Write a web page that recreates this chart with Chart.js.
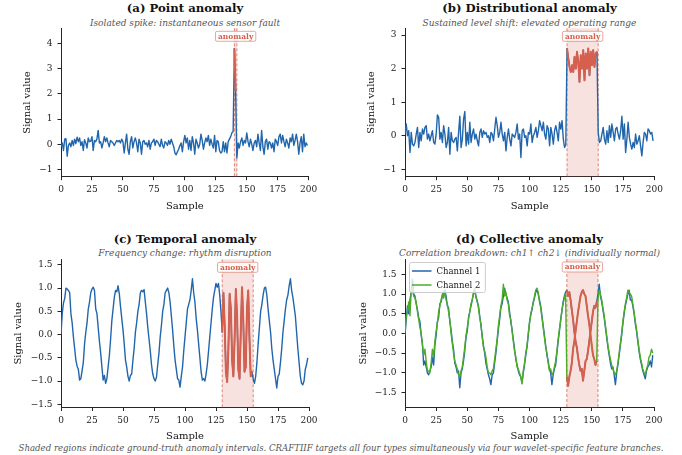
<!DOCTYPE html>
<html>
<head>
<meta charset="utf-8">
<script src="https://cdn.jsdelivr.net/npm/chart.js@4.4.1/dist/chart.umd.min.js"></script>
<style>
  body { margin: 0; width: 682px; height: 455px; background: #fff; position: relative; overflow: hidden; font-family: 'DejaVu Serif', serif; }
  canvas { position: absolute; }
  .t { position: absolute; transform: translate(-50%, -50%); white-space: nowrap; line-height: 1; }
  .title { font-weight: bold; font-size: 11.7px; color: #111; }
  .sub { font-style: italic; font-size: 9px; color: #555; }
  .note { font-style: italic; font-size: 8.6px; color: #555; }
</style>
</head>
<body>
<div class="t title" style="left:185px;top:9px">(a) Point anomaly</div>
<div class="t sub" style="left:185px;top:22.5px">Isolated spike: instantaneous sensor fault</div>
<div class="t title" style="left:529.5px;top:9px">(b) Distributional anomaly</div>
<div class="t sub" style="left:529.5px;top:22.5px">Sustained level shift: elevated operating range</div>
<div class="t title" style="left:185px;top:240px">(c) Temporal anomaly</div>
<div class="t sub" style="left:185px;top:252.5px">Frequency change: rhythm disruption</div>
<div class="t title" style="left:529.5px;top:240px">(d) Collective anomaly</div>
<div class="t sub" style="left:529.5px;top:252.5px">Correlation breakdown: ch1↑ ch2↓ (individually normal)</div>
<div class="t note" style="left:341px;top:447.5px">Shaded regions indicate ground-truth anomaly intervals. CRAFTIIF targets all four types simultaneously via four wavelet-specific feature branches.</div>

<canvas id="chartA" width="341" height="216" style="left:0px;top:0px"></canvas>
<canvas id="chartB" width="341" height="216" style="left:341px;top:0px"></canvas>
<canvas id="chartC" width="341" height="216" style="left:0px;top:228px"></canvas>
<canvas id="chartD" width="341" height="216" style="left:341px;top:228px"></canvas>

<script>
// tick labels
const xTicks = [0, 25, 50, 75, 100, 125, 150, 175, 200];
const yTicksA = [-1, 0, 1, 2, 3, 4];
const yTicksB = [-1, 0, 1, 2, 3];
const yTicksC = [-1.5, -1.0, -0.5, 0.0, 0.5, 1.0, 1.5];
const yTicksD = [-1.5, -1.0, -0.5, 0.0, 0.5, 1.0, 1.5];

// ground-truth anomaly intervals [start, end)
const windowA = [140, 142];
const windowB = [130, 155];
const windowC = [130, 155];
const windowD = [130, 155];

// (a) point anomaly, samples 0..199
const signalA = [
  -0.10, 0.05, -0.25, 0.20, 0.22, -0.48, -0.05, 0.05, -0.10, 0.15,
  -0.05, 0.20, 0.02, 0.28, 0.10, 0.25, -0.05, 0.10, -0.25, 0.18,
  0.05, -0.15, 0.25, 0.10, 0.12, 0.30, -0.25, 0.15, 0.10, 0.20,
  0.55, 0.05, 0.10, -0.15, 0.05, 0.30, 0.10, 0.25, 0.05, -0.10,
  0.15, 0.10, 0.05, -0.05, 0.05, 0.15, 0.10, 0.15, 0.05, 0.20,
  0.10, -0.35, 0.05, 0.40, -0.20, -0.40, 0.10, 0.30, -0.15, 0.10,
  0.25, 0.05, -0.30, 0.20, 0.05, -0.40, 0.10, 0.15, 0.00, 0.05,
  -0.10, 0.15, -0.20, 0.05, 0.10, 0.20, -0.05, 0.15, 0.10, 0.00,
  -0.10, 0.20, -0.05, -0.15, 0.10, 0.05, -0.05, 0.15, 0.00, 0.20,
  0.05, -0.10, -0.35, -0.42, -0.30, -0.20, -0.05, 0.05, -0.30, 0.10,
  0.35, 0.05, 0.25, -0.20, 0.15, -0.25, 0.30, 0.05, -0.40, 0.20,
  0.05, -0.15, 0.00, 0.40, 0.15, -0.20, 0.05, 0.25, 0.10, 0.35,
  -0.05, 0.20, 0.00, -0.15, 0.35, -0.30, 0.15, 0.10, -0.25, -0.35,
  -0.30, 0.10, -0.30, 0.05, -0.35, 0.10, 0.20, 0.30, 0.45, 0.50,
  3.80, 2.10, -0.55, 0.05, -0.15, 0.10, 0.25, -0.05, 0.15, 0.05,
  0.45, 0.10, -0.10, 0.20, 0.00, -0.25, 0.05, 0.15, -0.10, 0.40,
  0.05, -0.25, 0.55, -0.10, -0.40, 0.10, 0.20, -0.20, 0.10, 0.05,
  -0.15, 0.05, -0.30, 0.20, 0.10, -0.05, 0.30, 0.40, 0.05, 0.35,
  0.10, -0.10, 0.20, 0.05, -0.15, 0.25, 0.10, 0.40, -0.05, 0.15,
  0.40, 0.10, -0.40, 0.05, 0.30, -0.30, 0.40, -0.10, 0.05, -0.05
];

// (b) distributional anomaly
const signalB = [
  0.05, 0.35, 0.00, 0.15, -0.50, 0.10, -0.25, -0.30, -0.20, 0.05,
  0.25, -0.35, 0.10, -0.15, 0.20, 0.05, 0.25, 0.30, -0.10, 0.05,
  -0.15, 0.00, 0.15, -0.20, -0.25, 0.05, 0.62, 0.55, -0.10, 0.10,
  -0.20, 0.30, 0.05, -0.35, -0.20, 0.25, -0.55, 0.10, -0.15, -0.20,
  -0.10, -0.05, -0.45, 0.10, 0.58, -0.35, -0.10, 0.50, 0.72, -0.30,
  0.10, -0.25, 0.40, -0.20, 0.05, 0.20, -0.10, 0.05, -0.15, -0.30,
  0.10, 0.20, -0.05, 0.15, 0.05, 0.10, -0.05, 0.00, -0.20, 0.10,
  0.05, -0.15, 0.20, 0.55, 0.30, -0.05, 0.10, 0.40, 0.05, -0.15,
  0.10, -0.45, -0.05, 0.20, -0.10, -0.30, 0.05, 0.00, -0.05, 0.10,
  0.35, -0.10, 0.05, -0.65, 0.15, 0.20, -0.05, 0.00, -0.30, 0.10,
  0.05, 0.35, -0.20, 0.00, 0.10, 0.25, -0.05, 0.15, 0.45, 0.30,
  0.15, 0.40, 0.05, -0.10, 0.30, 0.20, -0.30, 0.25, 0.05, -0.25,
  0.15, 0.30, 0.10, -0.15, 0.40, 0.20, 0.45, -0.10, -0.35, -0.25,
  2.60, 2.30, 2.05, 1.90, 2.10, 1.90, 2.35, 2.00, 2.50, 2.20,
  1.60, 2.40, 2.00, 2.55, 1.65, 2.45, 2.00, 2.60, 1.80, 2.50,
  2.10, 2.55, 2.05, 2.45, 2.50, 0.10, -0.20, -0.15, 0.05, 0.25,
  -0.10, -0.25, 0.15, -0.20, 0.30, -0.05, 0.35, 0.10, -0.15, 0.20,
  0.25, 0.05, -0.10, 0.15, 0.58, -0.10, 0.35, -0.50, -0.10, 0.40,
  -0.05, -0.25, -0.40, -0.20, -0.35, 0.05, -0.25, -0.15, 0.00, -0.30,
  -0.60, -0.20, 0.10, 0.05, -0.15, 0.20, 0.15, 0.05, 0.10, -0.15
];

// (c) temporal anomaly
const signalC = [
  0.00, 0.45, 0.68, 0.78, 1.00, 0.98, 0.95, 0.90, 0.45, 0.25,
  -0.05, -0.30, -0.55, -0.68, -0.75, -0.98, -0.95, -0.78, -0.60, -0.20,
  0.05, 0.25, 0.55, 0.70, 0.90, 0.98, 1.02, 0.95, 0.55, 0.45,
  0.15, -0.15, -0.40, -0.70, -0.98, -0.88, -1.05, -0.95, -0.70, -0.45,
  -0.10, 0.30, 0.55, 0.80, 0.95, 0.92, 1.05, 0.88, 0.60, 0.35,
  0.10, -0.20, -0.55, -0.70, -0.90, -1.00, -0.88, -0.85, -0.55, -0.30,
  0.05, 0.25, 0.50, 0.65, 0.90, 0.95, 0.92, 0.97, 0.70, 0.45,
  0.15, -0.10, -0.35, -0.65, -0.85, -0.95, -1.00, -0.92, -0.65, -0.40,
  -0.05, 0.20, 0.50, 0.65, 0.90, 0.95, 1.00, 0.90, 0.70, 0.40,
  0.10, -0.25, -0.55, -0.75, -0.95, -0.98, -1.13, -0.90, -0.70, -0.35,
  -0.05, 0.25, 0.55, 0.65, 0.75, 0.95, 1.20, 0.90, 0.70, 0.35,
  0.10, -0.20, -0.50, -0.80, -0.98, -0.95, -1.00, -0.85, -0.65, -0.35,
  -0.05, 0.25, 0.55, 0.80, 0.95, 1.10, 1.02, 1.10, 0.85, 0.50,
  0.05, 0.90, 0.20, -0.80, -1.02, -0.30, 0.88, 0.55, -0.55, -0.90,
  -0.10, 0.98, 0.40, -0.75, -0.95, 0.10, 1.02, 0.30, -0.80, -0.70,
  0.55, 0.95, -0.10, -0.90, -0.80, -0.95, -1.05, -0.90, -0.60, -0.20,
  0.15, 0.50, 0.65, 0.85, 1.00, 1.02, 0.85, 0.55, 0.30, 0.05,
  -0.30, -0.55, -0.75, -0.95, -1.15, -0.90, -0.85, -0.60, -0.30, 0.05,
  0.30, 0.55, 0.75, 0.85, 1.05, 1.20, 0.95, 0.80, 0.60, 0.40,
  0.05, -0.30, -0.60, -0.90, -1.05, -1.08, -1.00, -0.75, -0.65, -0.50
];

// (d) collective anomaly, channel 1
const channel1 = [
  -0.05, 0.35, 0.70, 0.50, 0.85, 1.05, 1.38, 1.00, 0.95, 0.75,
  0.60, 0.40, 0.30, -0.05, -0.25, -0.80, -0.70, -0.85, -1.00, -1.05,
  -0.95, -0.85, -0.60, -0.80, -0.30, -0.05, 0.30, 0.40, 0.75, 0.80,
  0.95, 1.05, 1.10, 0.95, 0.70, 0.65, 0.30, 0.10, -0.20, -0.40,
  -0.75, -0.85, -1.00, -0.95, -1.38, -1.00, -0.90, -0.70, -0.45, -0.10,
  0.05, 0.40, 0.55, 0.70, 0.85, 1.00, 1.10, 0.95, 0.80, 0.70,
  0.45, 0.20, -0.05, -0.30, -0.50, -0.75, -0.90, -1.05, -1.15, -1.30,
  -1.05, -1.00, -0.75, -0.50, -0.20, 0.10, 0.35, 0.65, 0.75, 0.95,
  1.15, 1.00, 0.90, 0.80, 0.55, 0.30, 0.10, -0.15, -0.40, -0.65,
  -0.80, -0.95, -1.05, -1.10, -1.25, -1.00, -0.80, -0.55, -0.35, -0.05,
  0.25, 0.50, 0.60, 0.80, 0.90, 1.05, 1.10, 1.00, 0.85, 0.70,
  0.45, 0.20, -0.05, -0.30, -0.55, -0.70, -0.90, -1.00, -1.30, -1.05,
  -0.90, -0.80, -0.50, -0.20, 0.05, 0.35, 0.55, 0.80, 0.95, 1.05,
  1.10, 0.95, 1.05, 0.85, 0.60, 0.35, 0.05, -0.20, -0.35, -0.60,
  -0.80, -0.95, -0.90, -1.20, -0.95, -0.70, -0.65, -0.45, -0.20, 0.05,
  0.30, 0.55, 0.70, 0.65, 0.80, 1.00, 1.25, 0.95, 0.80, 0.60,
  0.40, 0.15, -0.10, -0.35, -0.55, -0.75, -0.90, -0.85, -1.05, -1.30,
  -1.00, -0.80, -0.55, -0.30, -0.05, 0.25, 0.50, 0.70, 0.85, 1.00,
  1.10, 0.85, 0.85, 0.70, 0.50, 0.25, 0.05, -0.20, -0.45, -0.65,
  -0.80, -0.95, -1.05, -1.15, -0.95, -0.85, -0.80, -0.70, -0.85, -0.55
];

// (d) channel 2
const channel2 = [
  0.05, 0.45, 0.55, 0.80, 0.45, 1.10, 1.15, 0.95, 0.90, 0.80,
  0.55, 0.35, 0.15, 0.00, -0.30, -0.55, -0.40, -0.70, -0.95, -0.95,
  -1.00, -0.75, -0.40, -0.60, -0.20, 0.05, 0.25, 0.55, 0.70, 0.85,
  1.00, 0.90, 1.05, 0.85, 0.75, 0.55, 0.35, 0.00, -0.25, -0.50,
  -0.70, -0.80, -0.90, -1.05, -1.10, -0.95, -0.85, -0.60, -0.35, -0.05,
  0.15, 0.35, 0.55, 0.75, 0.85, 1.05, 1.15, 0.90, 0.85, 0.65,
  0.40, 0.25, -0.10, -0.35, -0.45, -0.60, -0.85, -1.00, -1.00, -1.05,
  -0.95, -0.90, -0.65, -0.40, -0.15, 0.20, 0.45, 0.70, 0.85, 1.25,
  0.95, 1.05, 0.85, 0.75, 0.45, 0.35, 0.05, -0.20, -0.45, -0.60,
  -0.85, -0.90, -1.00, -1.10, -1.28, -0.95, -0.75, -0.50, -0.30, 0.00,
  0.30, 0.45, 0.65, 0.75, 0.95, 1.10, 1.15, 1.05, 0.80, 0.65,
  0.40, 0.15, -0.10, -0.35, -0.50, -0.75, -0.95, -0.90, -1.05, -1.00,
  -0.85, -0.70, -0.45, -0.15, 0.10, 0.30, 0.60, 0.75, 0.90, 1.00,
  -1.10, -1.33, -1.10, -0.95, -0.75, -0.40, -0.20, 0.05, 0.30, 0.55,
  0.75, 0.95, 1.05, 1.10, 1.00, 0.95, 0.70, 0.45, 0.25, -0.05,
  -0.30, -0.55, -0.65, -0.80, -0.70, 0.85, 1.10, 1.00, 0.85, 0.65,
  0.45, 0.20, -0.05, -0.30, -0.50, -0.65, -0.80, -0.90, -1.00, -1.05,
  -0.95, -0.75, -0.50, -0.25, 0.00, 0.30, 0.55, 0.75, 0.90, 1.10,
  1.05, 1.00, 0.95, 0.75, 0.55, 0.30, 0.10, -0.15, -0.40, -0.60,
  -0.75, -0.90, -1.00, -1.05, -0.90, -0.80, -0.60, -0.55, -0.40, -0.50
];

const blue = '#2166ac';
const red = '#d6604d';
const green = '#4dac26';
const ink = '#262626';
const serif = 'DejaVu Serif';

// turn a value list into {x, y} points, sample index on x
function points(arr, from, to) {
  return arr.slice(from, to).map((v, i) => ({ x: from + i, y: v }));
}

function minus(s) {
  return String(s).replace('-', '\u2212');
}

// shaded window, dashed edges, "anomaly" tag and the (d) legend
const decor = {
  id: 'decor',
  beforeDatasetsDraw(chart, args, opts) {
    const { ctx, chartArea: a, scales: { x } } = chart;
    const x1 = x.getPixelForValue(opts.start);
    const x2 = x.getPixelForValue(opts.end);
    ctx.save();
    ctx.fillStyle = 'rgba(214,96,77,0.18)';
    ctx.fillRect(x1, a.top, x2 - x1, a.bottom - a.top);
    ctx.strokeStyle = 'rgba(214,96,77,0.75)';
    ctx.lineWidth = 1;
    ctx.setLineDash([3, 2]);
    [x1, x2].forEach(px => {
      ctx.beginPath();
      ctx.moveTo(px, a.top);
      ctx.lineTo(px, a.bottom);
      ctx.stroke();
    });
    ctx.restore();
  },
  afterDatasetsDraw(chart, args, opts) {
    const { ctx, chartArea: a, scales: { x } } = chart;
    const cx = (x.getPixelForValue(opts.start) + x.getPixelForValue(opts.end)) / 2;
    ctx.save();
    ctx.font = 'bold 7.5px "' + serif + '"';
    const w = ctx.measureText('anomaly').width + 5;
    const h = 10;
    const top = a.top + 3;
    ctx.beginPath();
    ctx.roundRect(cx - w / 2, top, w, h, 1.5);
    ctx.fillStyle = 'rgba(255,255,255,0.85)';
    ctx.fill();
    ctx.strokeStyle = 'rgba(214,96,77,0.55)';
    ctx.lineWidth = 1;
    ctx.stroke();
    ctx.fillStyle = red;
    ctx.textAlign = 'center';
    ctx.textBaseline = 'middle';
    ctx.fillText('anomaly', cx, top + h / 2 + 0.5);

    if (opts.legend) {
      const items = chart.data.datasets.filter(d => d.label);
      ctx.font = '8.5px "' + serif + '"';
      const bx = a.left + 4.5, by = a.top + 3.5;
      const bw = 27 + Math.max(...items.map(d => ctx.measureText(d.label).width)) + 5;
      const bh = 30;
      ctx.beginPath();
      ctx.roundRect(bx, by, bw, bh, 2);
      ctx.fillStyle = 'rgba(255,255,255,0.8)';
      ctx.fill();
      ctx.strokeStyle = '#cccccc';
      ctx.stroke();
      items.forEach((d, i) => {
        const yy = by + 8.5 + i * 14;
        ctx.beginPath();
        ctx.moveTo(bx + 2.5, yy);
        ctx.lineTo(bx + 22, yy);
        ctx.strokeStyle = d.borderColor;
        ctx.lineWidth = 1.5;
        ctx.stroke();
        ctx.fillStyle = '#222';
        ctx.textAlign = 'left';
        ctx.fillText(d.label, bx + 27, yy + 0.5);
      });
    }
    ctx.restore();
  }
};

function draw(id, datasets, o) {
  new Chart(document.getElementById(id), {
    type: 'line',
    data: { datasets: datasets },
    options: {
      responsive: false,
      animation: false,
      devicePixelRatio: 1,
      layout: { padding: { top: o.padTop, right: o.padRight, bottom: 0, left: 0 } },
      elements: {
        point: { radius: 0 },
        line: { tension: 0, borderJoinStyle: 'round', fill: false }
      },
      plugins: {
        legend: { display: false },
        tooltip: { enabled: false },
        decor: { start: o.window[0], end: o.window[1], legend: !!o.legend }
      },
      scales: {
        x: {
          type: 'linear',
          min: 0,
          max: 200,
          afterBuildTicks: s => { s.ticks = xTicks.map(v => ({ value: v })); },
          afterFit: s => { s.height = o.xh; },
          ticks: { font: { family: serif, size: 9 }, color: '#222', padding: 4, maxRotation: 0, autoSkip: false },
          grid: { display: true, drawOnChartArea: false, drawTicks: true, tickLength: 3.5, color: ink },
          border: { display: true, color: ink, width: 1 },
          title: { display: true, text: 'Sample', font: { family: serif, size: 10 }, color: '#111', padding: { top: 0, bottom: o.xTitlePad } }
        },
        y: {
          type: 'linear',
          min: o.yMin,
          max: o.yMax,
          afterBuildTicks: s => { s.ticks = o.yTicks.map(v => ({ value: v })); },
          afterFit: s => { s.width = o.yw; },
          ticks: {
            font: { family: serif, size: 9 }, color: '#222', padding: 5,
            callback: v => minus(o.decimals ? v.toFixed(o.decimals) : v)
          },
          grid: { display: true, drawOnChartArea: false, drawTicks: true, tickLength: 3.5, color: ink },
          border: { display: true, color: ink, width: 1 },
          title: { display: true, text: 'Signal value', font: { family: serif, size: 10 }, color: '#111', padding: { top: o.yTitlePad, bottom: 0 } }
        }
      }
    },
    plugins: [decor]
  });
}

draw('chartA', [
  { data: points(signalA, windowA[0], windowA[1]), borderColor: red, borderWidth: 2, order: 0 },
  { data: points(signalA, 0, signalA.length), borderColor: blue, borderWidth: 1.4, order: 2 }
], { window: windowA, yMin: -1.29, yMax: 4.6, yTicks: yTicksA, padTop: 28.3, padRight: 32.3, yw: 61, xh: 39.3, xTitlePad: 3.9, yTitlePad: 21 });

draw('chartB', [
  { data: points(signalB, windowB[0], windowB[1]), borderColor: red, borderWidth: 2, order: 0 },
  { data: points(signalB, 0, signalB.length), borderColor: blue, borderWidth: 1.4, order: 2 }
], { window: windowB, yMin: -1.22, yMax: 3.2, yTicks: yTicksB, padTop: 28.3, padRight: 27.7, yw: 64, xh: 39.3, xTitlePad: 3.9, yTitlePad: 24 });

draw('chartC', [
  { data: points(signalC, windowC[0], windowC[1]), borderColor: red, borderWidth: 2, order: 0 },
  { data: points(signalC, 0, signalC.length), borderColor: blue, borderWidth: 1.4, order: 2 }
], { window: windowC, yMin: -1.57, yMax: 1.62, yTicks: yTicksC, decimals: 1, padTop: 31.3, padRight: 32, yw: 61, xh: 36.5, xTitlePad: 1.3, yTitlePad: 12 });

draw('chartD', [
  { data: points(channel1, windowD[0], windowD[1]), borderColor: red, borderWidth: 2, order: 0 },
  { data: points(channel2, windowD[0], windowD[1]), borderColor: red, borderWidth: 2, order: 0 },
  { label: 'Channel 1', data: points(channel1, 0, channel1.length), borderColor: blue, borderWidth: 1.4, order: 2 },
  { label: 'Channel 2', data: points(channel2, 0, channel2.length), borderColor: green, borderWidth: 1.4, order: 1 }
], { window: windowD, yMin: -1.88, yMax: 1.89, yTicks: yTicksD, decimals: 1, legend: true, padTop: 31, padRight: 28, yw: 64, xh: 36.5, xTitlePad: 1.3, yTitlePad: 16 });
</script>
</body>
</html>
